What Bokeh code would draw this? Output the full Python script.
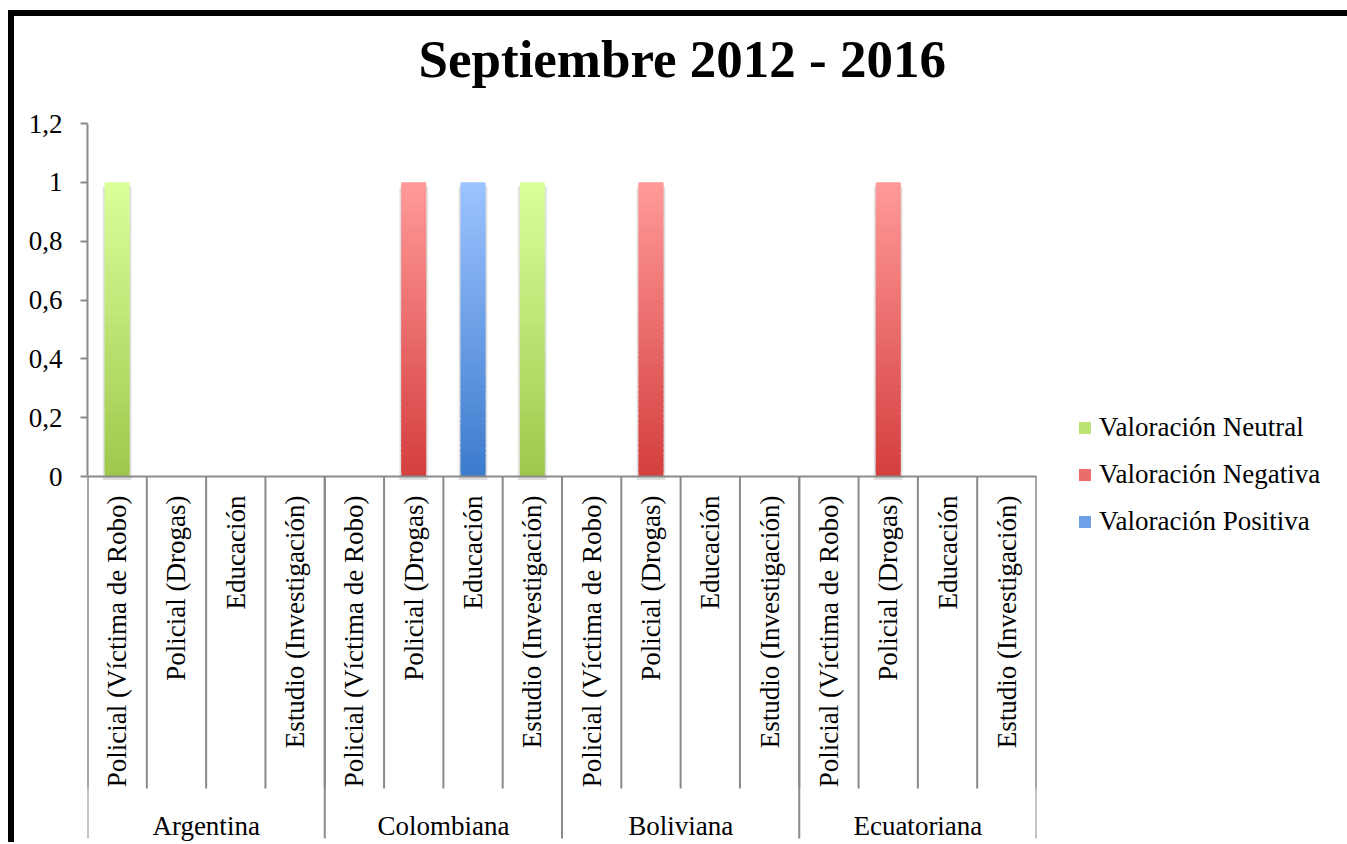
from math import pi
from bokeh.plotting import figure
from bokeh.models import (FactorRange, ColumnDataSource, FixedTicker, CustomJSTickFormatter,
                          Legend, LegendItem, Range1d, Span)
from bokeh.core.properties import value
from bokeh.embed import file_html
from bokeh.resources import INLINE

# ---------------- data ----------------
title_text = "Septiembre 2012 - 2016"
groups = ["Argentina", "Colombiana", "Boliviana", "Ecuatoriana"]
subcats = ["Policial (Víctima de Robo)", "Policial (Drogas)", "Educación", "Estudio (Investigación)"]
series_names = ["Valoración Neutral", "Valoración Negativa", "Valoración Positiva"]
neutral = [1, 0, 0, 0, 0, 0, 0, 1, 0, 0, 0, 0, 0, 0, 0, 0]
negativa = [0, 0, 0, 0, 0, 1, 0, 0, 0, 1, 0, 0, 0, 1, 0, 0]
positiva = [0, 0, 0, 0, 0, 0, 1, 0, 0, 0, 0, 0, 0, 0, 0, 0]
y_ticks = [0, 0.2, 0.4, 0.6, 0.8, 1.0, 1.2]

# ---------------- style ----------------
FONT = "Liberation Serif"
AX = "#8a8a8a"
grad = {  # (top colour, bottom colour)
    "Valoración Neutral": ((218, 255, 154), (158, 200, 76)),
    "Valoración Negativa": ((255, 154, 152), (212, 62, 62)),
    "Valoración Positiva": ((157, 195, 255), (60, 123, 205)),
}

factors = [(g, s) for g in groups for s in subcats]
nf = len(factors)

# pixel geometry of the value scale (page px)
Y0, Y12, FT, FB = 476.0, 123.0, 96.0, 842.0
unit = (Y0 - Y12) / 1.2
y_end = (Y0 - FT) / unit
y_start = -(FB - Y0) / unit
sub_sep_bottom = -(788 - Y0) / unit
grp_sep_bottom = -(838 - Y0) / unit

p = figure(x_range=FactorRange(factors=factors, group_padding=0, factor_padding=0, range_padding=0),
           y_range=Range1d(y_start, y_end),
           frame_width=949, frame_height=int(FB - FT), output_backend="svg", toolbar_location=None,
           x_axis_location=None, min_border_left=73, min_border_right=300,
           min_border_top=80, min_border_bottom=0, title=title_text)
p.styles = {"border-top": "6px solid black", "border-left": "6px solid black",
            "margin-left": "8px", "margin-top": "10px"}
p.outline_line_color = None
p.xgrid.visible = False
p.ygrid.visible = False
p.background_fill_color = "white"
p.border_fill_color = "white"

p.title.text_font = FONT
p.title.text_font_size = "53px"
p.title.text_font_style = "bold"
p.title.text_color = "black"
p.title.align = "left"
p.title.offset = 331
p.title.standoff = 18

ya = p.yaxis[0]
ya.ticker = FixedTicker(ticks=y_ticks)
ya.bounds = (0, 1.2)
ya.formatter = CustomJSTickFormatter(code="return tick.toFixed(1).replace('.', ',').replace(',0', '');")
ya.axis_line_color = AX
ya.axis_line_width = 2
ya.major_tick_line_color = AX
ya.major_tick_line_width = 2
ya.major_tick_out = 7
ya.major_tick_in = 0
ya.minor_tick_line_color = None
ya.major_label_text_font = FONT
ya.major_label_text_font_size = "27px"
ya.major_label_text_color = "black"
ya.major_label_standoff = 18

# soft shadow + gradient bars (stacked)
series_vals = [neutral, negativa, positiva]
N = 60
base = [0.0] * nf
legend_items = []
for name, vals in zip(series_names, series_vals):
    top_c, bot_c = grad[name]
    xs, bots, tops, cols = [], [], [], []
    sx, stop, sbot = [], [], []
    for i, v in enumerate(vals):
        if v <= 0:
            continue
        b0 = base[i]
        sx.append(factors[i]); stop.append(b0 + v - 0.015); sbot.append(b0 - 0.012)
        for k in range(N):
            t = (k + 0.5) / N
            c = tuple(int(round(bot_c[j] + (top_c[j] - bot_c[j]) * t)) for j in range(3))
            xs.append(factors[i])
            bots.append(b0 + v * k / N)
            tops.append(min(b0 + v * (k + 1.6) / N, b0 + v))
            cols.append("#%02x%02x%02x" % c)
        base[i] += v
    if sx:
        for w, a in ((0.50, 0.05), (0.47, 0.08)):
            p.vbar(x=sx, top=stop, bottom=sbot, width=w, fill_color="#000000",
                   fill_alpha=a, line_color=None)
    src = ColumnDataSource(dict(x=xs, bottom=bots, top=tops, color=cols))
    r = p.vbar(x="x", top="top", bottom="bottom", width=0.42, source=src,
               fill_color="color", line_color=None)
    legend_items.append(LegendItem(label=name, renderers=[r], index=N // 2))

# category axis drawn as nested labels with separators
p.add_layout(Span(location=0, dimension="width", line_color=AX, line_width=2))
bounds_all = list(range(nf + 1))
p.segment(x0=bounds_all, x1=bounds_all, y0=[0] * len(bounds_all), y1=[sub_sep_bottom] * len(bounds_all),
          line_color=AX, line_width=2)
gb = list(range(0, nf + 1, len(subcats)))
p.segment(x0=gb, x1=gb, y0=[0] * len(gb), y1=[grp_sep_bottom] * len(gb), line_color=AX, line_width=2)

p.text(x=factors, y=[0] * nf, text=[f[1] for f in factors], angle=pi / 2,
       text_align="right", text_baseline="middle", y_offset=19,
       text_font=value(FONT), text_font_size="27px", text_color="black")
p.text(x=groups, y=[0] * len(groups), text=groups, text_align="center", text_baseline="middle",
       y_offset=349, text_font=value(FONT), text_font_size="27px", text_color="black")

legend = Legend(items=legend_items, location=(41, 305), orientation="vertical")
legend.border_line_color = None
legend.background_fill_alpha = 0
legend.label_text_font = FONT
legend.label_text_font_size = "27px"
legend.label_text_color = "black"
legend.glyph_width = 15
legend.glyph_height = 15
legend.label_height = 30
legend.spacing = 16
legend.label_standoff = 7
legend.margin = 0
legend.padding = 12
p.add_layout(legend, "right")

open("out.html", "w").write(file_html(p, INLINE))
